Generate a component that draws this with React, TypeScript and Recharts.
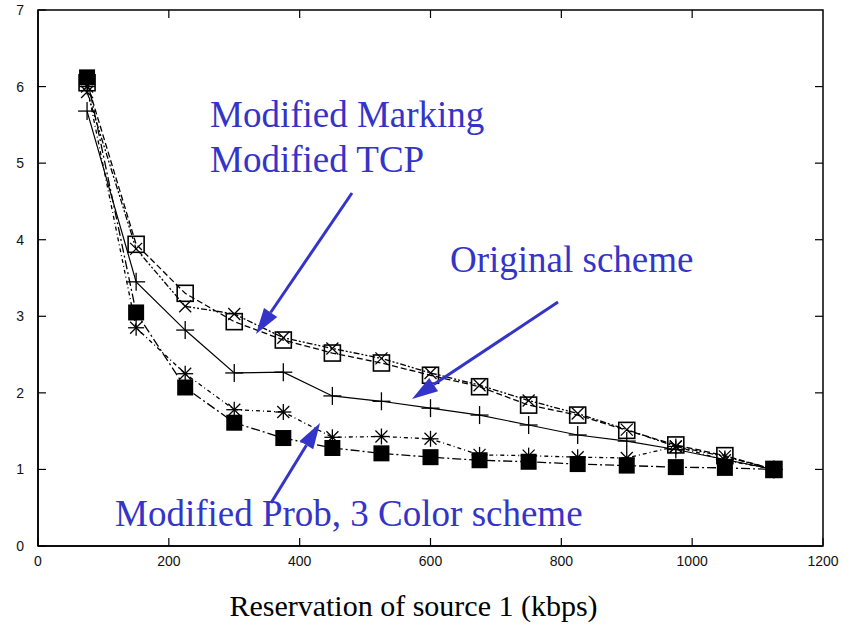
import { LineChart, Line, XAxis, YAxis, ReferenceArea } from 'recharts'

const reservation = [75, 150, 225, 300, 375, 450, 525, 600, 675, 750, 825, 900, 975, 1050, 1125]
const modifiedMarking = [6.05, 3.94, 3.3, 2.93, 2.69, 2.52, 2.39, 2.23, 2.08, 1.84, 1.71, 1.51, 1.32, 1.18, 1.0]
const modifiedTcp = [5.93, 3.88, 3.13, 3.03, 2.72, 2.58, 2.45, 2.26, 2.1, 1.9, 1.73, 1.52, 1.3, 1.17, 1.0]
const originalScheme = [5.68, 3.45, 2.82, 2.26, 2.27, 1.96, 1.89, 1.8, 1.71, 1.58, 1.45, 1.37, 1.26, 1.13, 1.0]
const modifiedProb = [6.0, 2.85, 2.25, 1.78, 1.75, 1.42, 1.43, 1.4, 1.19, 1.18, 1.16, 1.15, 1.3, 1.12, 1.0]
const threeColor = [6.12, 3.05, 2.07, 1.61, 1.41, 1.28, 1.21, 1.16, 1.12, 1.1, 1.07, 1.05, 1.03, 1.02, 1.0]

const xTicks = [0, 200, 400, 600, 800, 1000, 1200]
const yTicks = [0, 1, 2, 3, 4, 5, 6, 7]

const data = reservation.map((x, i) => ({
  x,
  marking: modifiedMarking[i],
  tcp: modifiedTcp[i],
  original: originalScheme[i],
  prob: modifiedProb[i],
  color3: threeColor[i],
}))

// plot box (matches chart margins + axis sizes)
const PLOT = { left: 38, right: 823, top: 10, bottom: 546 }
const px = (v: number) => PLOT.left + (v / 1200) * (PLOT.right - PLOT.left)
const py = (v: number) => PLOT.bottom - (v / 7) * (PLOT.bottom - PLOT.top)

const BLUE = '#3434c8'
const SERIF = "'Liberation Serif', 'DejaVu Serif', 'Times New Roman', serif"
const tickStyle = { fontFamily: "'Liberation Sans', Arial, sans-serif", fontSize: 14 }

// markers
const FilledSquare = ({ cx, cy }: any) => (
  <rect x={cx - 8} y={cy - 8} width={16} height={16} fill="#000" />
)
const OpenSquare = ({ cx, cy }: any) => (
  <rect x={cx - 8} y={cy - 8} width={16} height={16} fill="none" stroke="#000" strokeWidth={1.6} />
)
const Cross = ({ cx, cy }: any) => (
  <g stroke="#000" strokeWidth={1.3}>
    <line x1={cx - 6} y1={cy - 6} x2={cx + 6} y2={cy + 6} />
    <line x1={cx - 6} y1={cy + 6} x2={cx + 6} y2={cy - 6} />
  </g>
)
const Plus = ({ cx, cy }: any) => (
  <g stroke="#000" strokeWidth={1.3}>
    <line x1={cx - 9} y1={cy} x2={cx + 9} y2={cy} />
    <line x1={cx} y1={cy - 9} x2={cx} y2={cy + 9} />
  </g>
)
const Asterisk = ({ cx, cy }: any) => (
  <g stroke="#000" strokeWidth={1.3}>
    <line x1={cx - 8} y1={cy} x2={cx + 8} y2={cy} />
    <line x1={cx} y1={cy - 8} x2={cx} y2={cy + 8} />
    <line x1={cx - 6} y1={cy - 6} x2={cx + 6} y2={cy + 6} />
    <line x1={cx - 6} y1={cy + 6} x2={cx + 6} y2={cy - 6} />
  </g>
)

const dotOf = (Shape: any) => (p: any) => <Shape key={`d-${p.index}`} cx={p.cx} cy={p.cy} />

// inward ticks
const BottomTick = ({ x, y, payload }: any) => (
  <g>
    <line x1={x} y1={y - 8} x2={x} y2={y - 16} stroke="#000" strokeWidth={1.2} />
    <text x={x} y={y + 12} textAnchor="middle" fill="#111" style={tickStyle}>{payload.value}</text>
  </g>
)
const LeftTick = ({ x, y, payload }: any) => (
  <g>
    <line x1={x + 14} y1={y} x2={x + 22} y2={y} stroke="#000" strokeWidth={1.2} />
    <text x={x} y={y + 5} textAnchor="end" fill="#111" style={tickStyle}>{payload.value}</text>
  </g>
)

const Arrow = ({ x1, y1, x2, y2 }: any) => {
  const a = Math.atan2(y2 - y1, x2 - x1)
  const len = 26
  const w = 8
  const bx = x2 - len * Math.cos(a)
  const by = y2 - len * Math.sin(a)
  const ox = -Math.sin(a) * w
  const oy = Math.cos(a) * w
  return (
    <g>
      <line x1={x1} y1={y1} x2={bx} y2={by} stroke={BLUE} strokeWidth={3} />
      <polygon points={`${x2},${y2} ${bx + ox},${by + oy} ${bx - ox},${by - oy}`} fill={BLUE} />
    </g>
  )
}

const note = (left: number, top: number, size: number, color: string): any => ({
  position: 'absolute',
  left,
  top,
  fontFamily: SERIF,
  fontSize: size,
  lineHeight: 1,
  color,
  whiteSpace: 'nowrap',
})

export default function App() {
  return (
    <div style={{ position: 'absolute', left: 0, top: 0, width: 851, height: 629, background: '#fff' }}>
      <LineChart width={851} height={629} data={data} margin={{ top: 10, right: 28, bottom: 53, left: 0 }}>
        <XAxis
          dataKey="x"
          type="number"
          domain={[0, 1200]}
          ticks={xTicks}
          height={30}
          tickSize={0}
          tickMargin={8}
          tickLine={false}
          tick={<BottomTick />}
          axisLine={{ stroke: '#000', strokeWidth: 1.5 }}
        />
        <YAxis
          type="number"
          domain={[0, 7]}
          ticks={yTicks}
          width={38}
          tickSize={0}
          tickMargin={14}
          tickLine={false}
          tick={<LeftTick />}
          axisLine={{ stroke: '#000', strokeWidth: 1.5 }}
        />
        <ReferenceArea x1={0} x2={1200} y1={0} y2={7} fill="none" stroke="#000" strokeWidth={1.5} />
        <Line dataKey="original" stroke="#000" strokeWidth={1.2} dot={dotOf(Plus)} isAnimationActive={false} />
        <Line dataKey="marking" stroke="#000" strokeWidth={1.3} strokeDasharray="6 3" dot={dotOf(OpenSquare)} isAnimationActive={false} />
        <Line dataKey="tcp" stroke="#000" strokeWidth={1.3} strokeDasharray="6 2 2 2 2 2" dot={dotOf(Cross)} isAnimationActive={false} />
        <Line dataKey="prob" stroke="#000" strokeWidth={1.3} strokeDasharray="4 3 1 3" dot={dotOf(Asterisk)} isAnimationActive={false} />
        <Line dataKey="color3" stroke="#000" strokeWidth={1.3} strokeDasharray="9 3 2 3" dot={dotOf(FilledSquare)} isAnimationActive={false} />
      </LineChart>
      <svg width={851} height={629} style={{ position: 'absolute', left: 0, top: 0, pointerEvents: 'none' }}>
        {/* mirrored ticks on top and right edges */}
        {xTicks.slice(1, -1).map((t) => (
          <line key={`tt-${t}`} x1={px(t)} y1={PLOT.top} x2={px(t)} y2={PLOT.top + 8} stroke="#000" strokeWidth={1.2} />
        ))}
        {yTicks.slice(1, -1).map((t) => (
          <line key={`rt-${t}`} x1={PLOT.right} y1={py(t)} x2={PLOT.right - 8} y2={py(t)} stroke="#000" strokeWidth={1.2} />
        ))}
        <Arrow x1={352} y1={193} x2={256} y2={334} />
        <Arrow x1={558} y1={302} x2={412} y2={399} />
        <Arrow x1={271} y1={503} x2={320} y2={423} />
      </svg>
      <div style={note(210, 96, 37, BLUE)}>Modified Marking</div>
      <div style={note(210, 141, 37, BLUE)}>Modified TCP</div>
      <div style={note(450, 241, 37, BLUE)}>Original scheme</div>
      <div style={note(115, 495, 37, BLUE)}>Modified Prob, 3 Color scheme</div>
      <div style={{ ...note(0, 591, 30, '#000'), width: 851, textAlign: 'center', left: -12 }}>
        Reservation of source 1 (kbps)
      </div>
    </div>
  )
}
